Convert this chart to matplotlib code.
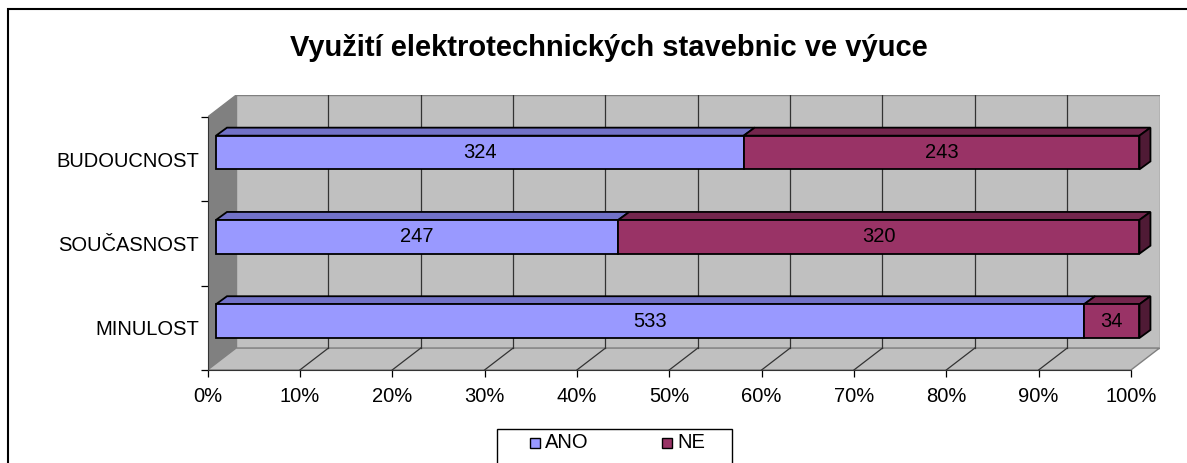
import numpy as np
import matplotlib.pyplot as plt
from matplotlib.patches import Polygon, Rectangle

plt.rcParams['font.family'] = ['Liberation Sans', 'DejaVu Sans']

categories = ['MINULOST', 'SOUČASNOST', 'BUDOUCNOST']
ano = [533, 247, 324]
ne = [34, 320, 243]
series_names = ['ANO', 'NE']
xticks = [0, 10, 20, 30, 40, 50, 60, 70, 80, 90, 100]

# colours (Excel 2003 style)
ano_front, ano_top, ano_side = '#9999FF', '#7272C8', '#5A5AA0'
ne_front, ne_top, ne_side = '#993366', '#73264D', '#4F1A35'
wall = '#C0C0C0'
side_wall = '#808080'

# 3D geometry in data units
DX, DY = 3.09, 0.26      # depth of the walls
BX, BY = 0.92, 0.08      # bar front offset into depth
BDX, BDY = 1.19, 0.095   # bar depth
BH = 0.40                # bar thickness

W, H = 1187, 463
fig = plt.figure(figsize=(W / 100, H / 100), dpi=100)
ax = fig.add_axes([207.5 / W, (H - 370) / H, 952 / W, 274.8 / H])
ax.set_xlim(0, 100 + DX)
ax.set_ylim(0, 3 + DY)
ax.patch.set_visible(False)

# walls and floor
ax.add_patch(Polygon([(DX, DY), (100 + DX, DY), (100 + DX, 3 + DY), (DX, 3 + DY)],
                     facecolor=wall, edgecolor=side_wall, lw=1, zorder=1))
ax.add_patch(Polygon([(0, 0), (DX, DY), (DX, 3 + DY), (0, 3)],
                     facecolor=side_wall, edgecolor=side_wall, lw=1, zorder=1))
ax.add_patch(Polygon([(0, 0), (100, 0), (100 + DX, DY), (DX, DY)],
                     facecolor=wall, edgecolor=side_wall, lw=1, zorder=1))

# gridlines on back wall and floor
for t in xticks[1:-1]:
    ax.plot([t + DX, t + DX], [DY, 3 + DY], color='#333333', lw=0.9, zorder=2)
    ax.plot([t, t + DX], [0, DY], color='#333333', lw=0.9, zorder=2)

# bars
for i, cat in enumerate(categories):
    total = ano[i] + ne[i]
    vals = [ano[i] / total * 100, ne[i] / total * 100]
    counts = [ano[i], ne[i]]
    fronts = [ano_front, ne_front]
    tops = [ano_top, ne_top]
    sides = [ano_side, ne_side]
    y0 = i + 0.5 - BH / 2 + BY
    y1 = y0 + BH
    left = 0
    for j in range(2):
        x0 = left + BX
        x1 = left + vals[j] + BX
        ax.add_patch(Polygon([(x0, y1), (x1, y1), (x1 + BDX, y1 + BDY), (x0 + BDX, y1 + BDY)],
                             facecolor=tops[j], edgecolor='black', lw=1.3, zorder=4))
        ax.add_patch(Rectangle((x0, y0), vals[j], BH, facecolor=fronts[j],
                               edgecolor='black', lw=1.3, zorder=5))
        if j == 1:
            ax.add_patch(Polygon([(x1, y0), (x1, y1), (x1 + BDX, y1 + BDY), (x1 + BDX, y0 + BDY)],
                                 facecolor=sides[j], edgecolor='black', lw=1.3, zorder=4))
        ax.text((x0 + x1) / 2, (y0 + y1) / 2, str(counts[j]), ha='center', va='center',
                fontsize=14.5, color='black', zorder=6)
        left += vals[j]

# axes
for s in ['top', 'right']:
    ax.spines[s].set_visible(False)
ax.spines['left'].set_bounds(0, 3)
ax.spines['bottom'].set_bounds(0, 100)
ax.spines['left'].set_color('#333333')
ax.spines['bottom'].set_color('#333333')
ax.spines['left'].set_zorder(3)
ax.spines['bottom'].set_zorder(3)

ax.set_xticks(xticks)
ax.set_xticklabels([f'{t}%' for t in xticks], fontsize=14.5)
ax.tick_params(axis='x', direction='out', length=5, width=0.9, pad=7)

ax.set_yticks([0.5, 1.5, 2.5])
ax.set_yticklabels(categories, fontsize=14.5)
ax.set_yticks([0, 1, 2, 3], minor=True)
ax.tick_params(axis='y', which='major', length=0, pad=6)
ax.tick_params(axis='y', which='minor', direction='out', length=5, width=0.9)

# title
fig.text(609 / W, 1 - 48 / H, 'Využití elektrotechnických stavebnic ve výuce',
         ha='center', va='center', fontsize=21, fontweight='bold')

# legend, drawn by hand to match the wide Excel box
fig.patches.append(Rectangle((497 / W, -0.05), 235 / W, 1 - 429 / H + 0.05,
                             transform=fig.transFigure, fill=False,
                             edgecolor='black', lw=1))
leg_y = 1 - 443 / H
for name, col, mx in zip(series_names, [ano_front, ne_front], [530, 662]):
    fig.patches.append(Rectangle((mx / W, leg_y - 5 / H), 10 / W, 10 / H,
                                 transform=fig.transFigure, facecolor=col,
                                 edgecolor='black', lw=1))
    fig.text((mx + 15) / W, leg_y, name, ha='left', va='center', fontsize=14.5)

# outer chart border (right and bottom fall outside the image)
fig.patches.append(Rectangle((8 / W, -0.1), 1.2, 1 - 9 / H + 0.1, transform=fig.transFigure,
                             fill=False, edgecolor='black', lw=1.5))

fig.savefig('out.png', dpi=100)
